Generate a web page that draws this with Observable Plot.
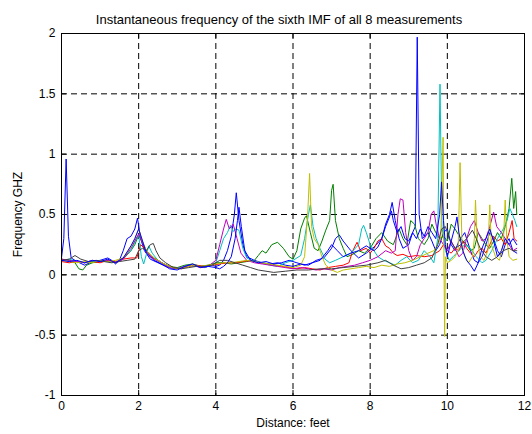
<!DOCTYPE html>
<html><head><meta charset="utf-8">
<script src="https://cdn.jsdelivr.net/npm/d3@7"></script>
<script src="https://cdn.jsdelivr.net/npm/@observablehq/plot@0.6"></script>
<style>body{margin:0;background:#fff}</style>
</head><body><div id="chart"></div>
<script>
const title = "Instantaneous frequency of the sixth IMF of all 8 measurements";
const xLabel = "Distance: feet";
const yLabel = "Frequency GHZ";
const xTicks = [0, 2, 4, 6, 8, 10, 12];
const yTicks = [-1, -0.5, 0, 0.5, 1, 1.5, 2];
const colors = ["#0000ff", "#008000", "#ff0000", "#00bfbf", "#bf00bf", "#bfbf00", "#404040", "#0000ff"];

// [distance (feet), frequency (GHz)] per measurement
const m1 = [[0,0.14],[0.06,0.3],[0.12,0.96],[0.18,0.32],[0.25,0.14],[0.4,0.11],[0.6,0.08],[0.8,0.11],[1.0,0.12],[1.2,0.14],[1.3,0.12],[1.4,0.09],[1.5,0.12],[1.6,0.2],[1.7,0.3],[1.8,0.32],[1.9,0.38],[1.97,0.47],[2.05,0.3],[2.15,0.2],[2.3,0.13],[2.5,0.1],[2.7,0.07],[2.9,0.05],[3.1,0.06],[3.3,0.08],[3.5,0.07],[3.7,0.06],[3.9,0.08],[4.0,0.07],[4.1,0.08],[4.2,0.12],[4.3,0.2],[4.4,0.32],[4.48,0.5],[4.53,0.68],[4.6,0.45],[4.7,0.25],[4.8,0.15],[5.0,0.12],[5.2,0.1],[5.4,0.09],[5.6,0.1],[5.8,0.08],[6.0,0.07],[6.2,0.09],[6.4,0.08],[6.6,0.12],[6.8,0.14],[7.0,0.22],[7.1,0.3],[7.2,0.33],[7.3,0.28],[7.5,0.2],[7.7,0.14],[7.9,0.18],[8.1,0.23],[8.3,0.3],[8.4,0.42],[8.5,0.5],[8.57,0.6],[8.65,0.45],[8.75,0.3],[8.85,0.22],[9.0,0.25],[9.1,0.35],[9.17,0.4],[9.22,1.97],[9.27,0.5],[9.35,0.3],[9.5,0.35],[9.6,0.28],[9.7,0.2],[9.8,0.25],[9.9,0.35],[10.0,0.38],[10.1,0.25],[10.2,0.2],[10.3,0.28],[10.45,0.35],[10.6,0.2],[10.7,0.12],[10.8,0.1],[10.9,0.15],[11.0,0.25],[11.1,0.35],[11.2,0.3],[11.3,0.2],[11.4,0.15],[11.5,0.25],[11.6,0.3],[11.7,0.2],[11.8,0.18]];
const m2 = [[0,0.13],[0.2,0.12],[0.35,0.1],[0.45,0.05],[0.55,0.04],[0.65,0.08],[0.8,0.1],[1.0,0.11],[1.2,0.12],[1.4,0.1],[1.6,0.13],[1.8,0.2],[1.9,0.25],[2.0,0.33],[2.1,0.27],[2.2,0.2],[2.4,0.14],[2.6,0.1],[2.8,0.07],[3.0,0.06],[3.2,0.08],[3.4,0.09],[3.6,0.07],[3.8,0.08],[4.0,0.1],[4.2,0.1],[4.4,0.09],[4.6,0.1],[4.8,0.11],[5.0,0.12],[5.1,0.16],[5.2,0.2],[5.3,0.18],[5.45,0.25],[5.6,0.27],[5.75,0.22],[5.9,0.15],[6.0,0.13],[6.1,0.2],[6.2,0.38],[6.3,0.47],[6.35,0.49],[6.45,0.35],[6.55,0.22],[6.65,0.2],[6.75,0.28],[6.85,0.37],[6.95,0.45],[7.0,0.7],[7.04,0.75],[7.1,0.45],[7.2,0.3],[7.3,0.22],[7.4,0.15],[7.55,0.17],[7.7,0.2],[7.85,0.18],[8.0,0.22],[8.15,0.3],[8.3,0.35],[8.45,0.28],[8.6,0.25],[8.75,0.38],[8.85,0.3],[8.95,0.25],[9.05,0.45],[9.15,0.42],[9.25,0.3],[9.4,0.25],[9.5,0.3],[9.6,0.42],[9.7,0.35],[9.8,0.3],[9.9,0.32],[10.0,0.28],[10.1,0.42],[10.2,0.38],[10.35,0.3],[10.5,0.25],[10.6,0.2],[10.7,0.22],[10.8,0.35],[10.9,0.3],[11.0,0.25],[11.1,0.22],[11.2,0.28],[11.3,0.35],[11.4,0.3],[11.5,0.4],[11.6,0.55],[11.67,0.8],[11.72,0.55],[11.77,0.69],[11.8,0.5]];
const m3 = [[0,0.11],[0.2,0.1],[0.4,0.11],[0.6,0.1],[0.8,0.11],[1.0,0.1],[1.2,0.12],[1.4,0.11],[1.6,0.13],[1.8,0.14],[1.95,0.14],[2.05,0.25],[2.15,0.22],[2.3,0.15],[2.5,0.12],[2.7,0.08],[2.9,0.06],[3.1,0.05],[3.3,0.07],[3.5,0.08],[3.7,0.07],[3.9,0.08],[4.1,0.09],[4.3,0.1],[4.5,0.1],[4.7,0.11],[4.9,0.12],[5.1,0.1],[5.3,0.09],[5.5,0.08],[5.7,0.07],[5.9,0.06],[6.1,0.05],[6.3,0.06],[6.5,0.05],[6.7,0.04],[6.9,0.06],[7.1,0.07],[7.3,0.08],[7.45,0.1],[7.55,0.2],[7.66,0.27],[7.75,0.2],[7.9,0.22],[8.0,0.18],[8.1,0.22],[8.2,0.28],[8.3,0.3],[8.4,0.24],[8.5,0.22],[8.6,0.18],[8.7,0.16],[8.85,0.17],[9.0,0.15],[9.2,0.16],[9.4,0.15],[9.6,0.16],[9.8,0.2],[9.9,0.25],[10.0,0.2],[10.1,0.18],[10.2,0.22],[10.3,0.2],[10.4,0.28],[10.5,0.22],[10.6,0.18],[10.7,0.15],[10.8,0.2],[10.9,0.22],[11.0,0.18],[11.1,0.25],[11.2,0.32],[11.3,0.28],[11.4,0.3],[11.5,0.25],[11.6,0.35],[11.68,0.45],[11.73,0.3],[11.8,0.28]];
const m4 = [[0,0.12],[0.2,0.13],[0.4,0.11],[0.6,0.1],[0.8,0.11],[1.0,0.12],[1.2,0.11],[1.4,0.1],[1.6,0.14],[1.8,0.2],[1.9,0.27],[2.0,0.33],[2.07,0.15],[2.13,0.09],[2.2,0.17],[2.26,0.24],[2.35,0.18],[2.5,0.12],[2.7,0.08],[2.9,0.05],[3.1,0.06],[3.3,0.08],[3.5,0.07],[3.7,0.06],[3.9,0.08],[4.0,0.1],[4.1,0.2],[4.2,0.3],[4.3,0.35],[4.38,0.41],[4.45,0.36],[4.52,0.38],[4.6,0.37],[4.7,0.22],[4.8,0.14],[5.0,0.11],[5.2,0.1],[5.4,0.08],[5.6,0.07],[5.8,0.1],[6.0,0.12],[6.2,0.16],[6.3,0.3],[6.4,0.5],[6.45,0.58],[6.52,0.4],[6.6,0.3],[6.7,0.22],[6.83,0.13],[6.95,0.1],[7.1,0.12],[7.3,0.15],[7.5,0.18],[7.7,0.25],[7.78,0.38],[7.83,0.41],[7.9,0.35],[8.0,0.25],[8.1,0.2],[8.2,0.15],[8.35,0.12],[8.5,0.1],[8.65,0.08],[8.8,0.12],[8.95,0.15],[9.1,0.1],[9.25,0.12],[9.4,0.2],[9.55,0.15],[9.65,0.1],[9.75,0.3],[9.81,1.58],[9.86,0.4],[9.95,0.2],[10.05,0.12],[10.15,0.15],[10.3,0.2],[10.45,0.25],[10.6,0.22],[10.75,0.15],[10.9,0.1],[11.0,0.12],[11.15,0.2],[11.3,0.3],[11.45,0.38],[11.55,0.45],[11.62,0.55],[11.69,0.5],[11.75,0.45],[11.8,0.4]];
const m5 = [[0,0.13],[0.2,0.12],[0.4,0.11],[0.6,0.1],[0.8,0.12],[1.0,0.11],[1.2,0.12],[1.4,0.1],[1.6,0.13],[1.8,0.22],[1.9,0.28],[2.0,0.34],[2.1,0.26],[2.2,0.19],[2.4,0.13],[2.6,0.1],[2.8,0.06],[3.0,0.05],[3.2,0.07],[3.4,0.08],[3.6,0.06],[3.8,0.07],[4.0,0.12],[4.1,0.25],[4.2,0.38],[4.27,0.46],[4.35,0.38],[4.45,0.42],[4.55,0.3],[4.65,0.18],[4.8,0.12],[5.0,0.1],[5.2,0.09],[5.4,0.08],[5.6,0.07],[5.8,0.06],[6.0,0.05],[6.2,0.06],[6.4,0.05],[6.6,0.04],[6.8,0.05],[7.0,0.04],[7.2,0.06],[7.4,0.07],[7.6,0.08],[7.8,0.1],[8.0,0.12],[8.2,0.15],[8.4,0.2],[8.55,0.18],[8.65,0.2],[8.72,0.5],[8.78,0.63],[8.85,0.62],[8.92,0.35],[9.0,0.2],[9.1,0.12],[9.2,0.15],[9.3,0.25],[9.4,0.3],[9.5,0.35],[9.58,0.5],[9.65,0.53],[9.72,0.4],[9.8,0.3],[9.9,0.25],[10.0,0.2],[10.1,0.28],[10.2,0.22],[10.3,0.15],[10.4,0.18],[10.5,0.3],[10.6,0.4],[10.7,0.45],[10.8,0.35],[10.9,0.28],[11.0,0.3],[11.1,0.4],[11.2,0.52],[11.28,0.4],[11.4,0.35],[11.5,0.3],[11.6,0.25],[11.7,0.2],[11.8,0.22]];
const m6 = [[0,0.12],[0.2,0.11],[0.4,0.1],[0.6,0.11],[0.8,0.1],[1.0,0.12],[1.2,0.11],[1.4,0.12],[1.6,0.14],[1.8,0.23],[1.9,0.3],[2.0,0.38],[2.1,0.28],[2.2,0.2],[2.4,0.14],[2.6,0.1],[2.8,0.07],[3.0,0.05],[3.2,0.06],[3.4,0.08],[3.6,0.07],[3.8,0.08],[4.0,0.09],[4.2,0.1],[4.4,0.1],[4.6,0.11],[4.8,0.12],[5.0,0.11],[5.2,0.1],[5.4,0.09],[5.6,0.08],[5.8,0.07],[6.0,0.06],[6.2,0.08],[6.3,0.15],[6.38,0.5],[6.43,0.84],[6.48,0.4],[6.55,0.3],[6.65,0.25],[6.75,0.15],[6.85,0.08],[7.0,0.04],[7.15,0.02],[7.3,0.04],[7.5,0.05],[7.7,0.06],[7.9,0.07],[8.1,0.06],[8.3,0.08],[8.5,0.07],[8.7,0.09],[8.9,0.1],[9.1,0.12],[9.3,0.15],[9.5,0.18],[9.65,0.2],[9.75,0.25],[9.83,0.3],[9.89,1.14],[9.91,0.2],[9.93,-0.51],[9.95,0.15],[10.0,0.1],[10.1,0.12],[10.2,0.15],[10.28,0.2],[10.33,0.93],[10.38,0.25],[10.45,0.15],[10.55,0.1],[10.65,0.15],[10.7,0.3],[10.73,0.62],[10.77,0.3],[10.85,0.15],[10.95,0.12],[11.05,0.2],[11.1,0.58],[11.14,0.25],[11.25,0.15],[11.35,0.12],[11.45,0.25],[11.5,0.62],[11.54,0.3],[11.6,0.15],[11.7,0.12],[11.8,0.13]];
const m7 = [[0,0.12],[0.2,0.13],[0.35,0.16],[0.5,0.13],[0.7,0.11],[0.9,0.12],[1.1,0.11],[1.3,0.1],[1.5,0.11],[1.7,0.12],[1.9,0.13],[2.0,0.2],[2.1,0.22],[2.2,0.2],[2.3,0.25],[2.38,0.26],[2.45,0.2],[2.55,0.14],[2.7,0.1],[2.9,0.06],[3.1,0.05],[3.3,0.06],[3.5,0.07],[3.7,0.07],[3.9,0.08],[4.1,0.12],[4.3,0.12],[4.5,0.1],[4.7,0.08],[4.9,0.06],[5.1,0.04],[5.3,0.03],[5.5,0.02],[5.8,0.03],[6.1,0.04],[6.4,0.04],[6.7,0.05],[7.0,0.05],[7.3,0.06],[7.6,0.07],[7.9,0.08],[8.2,0.1],[8.4,0.12],[8.6,0.08],[8.8,0.05],[9.0,0.06],[9.2,0.08],[9.4,0.1],[9.6,0.14],[9.75,0.25],[9.85,0.38],[9.95,0.4],[10.05,0.3],[10.2,0.22],[10.35,0.25],[10.5,0.3],[10.65,0.37],[10.75,0.3],[10.85,0.22],[11.0,0.15],[11.15,0.12],[11.3,0.15],[11.45,0.2],[11.6,0.22],[11.7,0.2],[11.8,0.2]];
const m8 = [[0,0.12],[0.2,0.11],[0.4,0.12],[0.6,0.1],[0.8,0.12],[1.0,0.11],[1.2,0.13],[1.4,0.1],[1.6,0.14],[1.8,0.24],[1.9,0.3],[2.0,0.38],[2.1,0.28],[2.2,0.18],[2.4,0.12],[2.6,0.09],[2.8,0.05],[3.0,0.04],[3.2,0.07],[3.4,0.09],[3.6,0.06],[3.8,0.07],[4.0,0.06],[4.1,0.05],[4.2,0.07],[4.3,0.1],[4.4,0.15],[4.5,0.3],[4.56,0.45],[4.6,0.56],[4.66,0.4],[4.75,0.2],[4.9,0.12],[5.1,0.1],[5.3,0.11],[5.5,0.09],[5.7,0.1],[5.9,0.12],[6.1,0.1],[6.3,0.08],[6.5,0.1],[6.7,0.12],[6.9,0.2],[7.0,0.25],[7.15,0.2],[7.3,0.15],[7.5,0.18],[7.7,0.2],[7.9,0.24],[8.1,0.2],[8.2,0.23],[8.3,0.3],[8.4,0.4],[8.5,0.48],[8.55,0.53],[8.6,0.45],[8.7,0.35],[8.8,0.4],[8.9,0.3],[9.0,0.28],[9.1,0.35],[9.2,0.3],[9.3,0.38],[9.4,0.32],[9.5,0.4],[9.6,0.35],[9.7,0.3],[9.8,0.5],[9.85,0.77],[9.9,0.45],[9.95,0.25],[10.0,0.15],[10.1,0.28],[10.2,0.4],[10.25,0.48],[10.3,0.35],[10.4,0.2],[10.5,0.12],[10.6,0.08],[10.7,0.03],[10.8,0.1],[10.9,0.22],[11.0,0.3],[11.1,0.38],[11.2,0.28],[11.3,0.15],[11.4,0.2],[11.5,0.3],[11.6,0.25],[11.7,0.3],[11.8,0.25]];
const measurements = [m1, m2, m3, m4, m5, m6, m7, m8];

const W = 532, H = 434, mt = 33, mb = 39, ml = 61, mr = 8;
const ph = H - mt - mb, pw = W - ml - mr;
const fmt = d => String(d);

const chart = Plot.plot({
  width: W, height: H,
  marginTop: mt, marginBottom: mb, marginLeft: ml, marginRight: mr,
  style: {fontFamily: "'Liberation Sans', Arial, sans-serif", fontSize: "12px", background: "#fff", color: "#000", overflow: "visible"},
  x: {domain: [0, 12], label: null},
  y: {domain: [-1, 2], label: null},
  marks: [
    Plot.gridX(xTicks, {stroke: "#000", strokeOpacity: 1, strokeDasharray: "6,4"}),
    Plot.gridY(yTicks, {stroke: "#000", strokeOpacity: 1, strokeDasharray: "6,4"}),
    ...measurements.map((m, i) => Plot.line(m, {x: d => d[0], y: d => d[1], stroke: colors[i], strokeWidth: 1})),
    Plot.frame({stroke: "#000"}),
    Plot.tickX(xTicks, {x: d => d, insetTop: ph - 5, stroke: "#000"}),
    Plot.tickX(xTicks, {x: d => d, insetBottom: ph - 5, stroke: "#000"}),
    Plot.tickY(yTicks, {y: d => d, insetRight: pw - 5, stroke: "#000"}),
    Plot.tickY(yTicks, {y: d => d, insetLeft: pw - 5, stroke: "#000"}),
    Plot.axisX(xTicks, {tickSize: 0, tickPadding: 6, tickFormat: fmt, fontSize: 12, label: null}),
    Plot.axisY(yTicks, {tickSize: 0, tickPadding: 6, tickFormat: fmt, fontSize: 12, label: null}),
    Plot.text([xLabel], {frameAnchor: "bottom", dy: 31, fontSize: 12}),
    Plot.text([yLabel], {frameAnchor: "left", dx: -43, rotate: -90, textAnchor: "middle", fontSize: 12}),
    Plot.text([title], {frameAnchor: "top", dx: -14, dy: -19, fontSize: 13})
  ]
});
document.getElementById("chart").appendChild(chart);
</script>
</body></html>
